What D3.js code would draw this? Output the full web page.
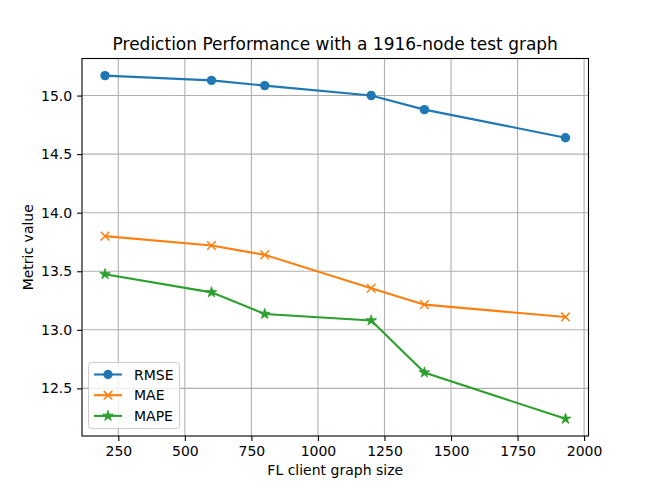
<!DOCTYPE html>
<html><head><meta charset="utf-8">
<script src="https://cdn.jsdelivr.net/npm/d3@7"></script>
<style>body{margin:0;background:#fff;} text{font-family:"DejaVu Sans",sans-serif;}</style>
</head><body>
<svg id="c" width="654" height="490"></svg>
<script>
const sizes = [200, 600, 800, 1200, 1400, 1930];
const rmse = [15.17, 15.13, 15.085, 15.0, 14.88, 14.64];
const mae = [13.80, 13.72, 13.64, 13.355, 13.215, 13.11];
const mape = [13.475, 13.32, 13.135, 13.08, 12.635, 12.24];
const xTicks = [250, 500, 750, 1000, 1250, 1500, 1750, 2000];
const yTicks = [12.5, 13.0, 13.5, 14.0, 14.5, 15.0];
const seriesNames = ["RMSE", "MAE", "MAPE"];
const colors = ["#1f77b4", "#ff7f0e", "#2ca02c"];
const markers = ["circle", "x", "star"];

const svg = d3.select("#c");
const L = 82, R = 588.5, T = 58.5, B = 436;
const all = rmse.concat(mae, mape);
const xmin = d3.min(sizes), xmax = d3.max(sizes);
const ymin = d3.min(all), ymax = d3.max(all);
const xm = (xmax - xmin) * 0.05, ym = (ymax - ymin) * 0.05;
const x = d3.scaleLinear().domain([xmin - xm, xmax + xm]).range([L, R]);
const y = d3.scaleLinear().domain([ymin - ym, ymax + ym]).range([B, T]);

// grid
const g = svg.append("g");
g.selectAll(".gx").data(xTicks.filter(t => x(t) <= R)).enter().append("line")
  .attr("x1", d => x(d)).attr("x2", d => x(d)).attr("y1", T).attr("y2", B)
  .attr("stroke", "#b0b0b0").attr("stroke-width", 1.1);
g.selectAll(".gy").data(yTicks).enter().append("line")
  .attr("y1", d => y(d)).attr("y2", d => y(d)).attr("x1", L).attr("x2", R)
  .attr("stroke", "#b0b0b0").attr("stroke-width", 1.1);

// axes
const xAxis = d3.axisBottom(x).tickValues(xTicks).tickSizeOuter(0).tickSize(4.9).tickPadding(4.9).tickFormat(d3.format("d"));
const yAxis = d3.axisLeft(y).tickValues(yTicks).tickSizeOuter(0).tickSize(4.9).tickPadding(4.9).tickFormat(d3.format(".1f"));
const gx = svg.append("g").attr("transform", `translate(0,${B})`).call(xAxis);
const gy = svg.append("g").attr("transform", `translate(${L},0)`).call(yAxis);
[gx, gy].forEach(a => {
  a.select(".domain").remove();
  a.selectAll("text").style("font-size", "14px").attr("fill", "#000");
  a.selectAll("line").attr("stroke", "#000").attr("stroke-width", 1.1);
});

// lines
const data = [rmse, mae, mape];
const line = d3.line().x(d => x(d[0])).y(d => y(d[1]));
function drawMarker(sel, type, color, cx, cy) {
  if (type === "circle") {
    sel.append("circle").attr("cx", cx).attr("cy", cy).attr("r", 4.7).attr("fill", color);
  } else if (type === "x") {
    const s = 4.3;
    sel.append("path").attr("d", `M${cx-s},${cy-s}L${cx+s},${cy+s}M${cx-s},${cy+s}L${cx+s},${cy-s}`)
      .attr("stroke", color).attr("stroke-width", 1.5).attr("fill", "none");
  } else {
    sel.append("path").attr("d", d3.symbol().type(d3.symbolStar).size(36)())
      .attr("transform", `translate(${cx},${cy})`).attr("fill", color).attr("stroke", color).attr("stroke-width", 0.8);
  }
}
data.forEach((vals, i) => {
  const pts = sizes.map((s, j) => [s, vals[j]]);
  svg.append("path").attr("d", line(pts)).attr("fill", "none").attr("stroke", colors[i]).attr("stroke-width", 2.1);
  const mg = svg.append("g");
  pts.forEach(p => drawMarker(mg, markers[i], colors[i], x(p[0]), y(p[1])));
});

// frame
svg.append("rect").attr("x", L).attr("y", T).attr("width", R - L).attr("height", B - T)
  .attr("fill", "none").attr("stroke", "#000").attr("stroke-width", 1.1);

// title & labels
svg.append("text").attr("x", (L + R) / 2).attr("y", 50).attr("text-anchor", "middle")
  .style("font-size", "17px").text("Prediction Performance with a 1916-node test graph");
svg.append("text").attr("x", (L + R) / 2).attr("y", 475).attr("text-anchor", "middle")
  .style("font-size", "14px").text("FL client graph size");
svg.append("text").attr("transform", `translate(33,${(T + B) / 2}) rotate(-90)`).attr("text-anchor", "middle")
  .style("font-size", "14px").text("Metric value");

// legend
const lg = svg.append("g");
lg.append("rect").attr("x", 88.5).attr("y", 362.5).attr("width", 91).attr("height", 66).attr("rx", 3)
  .attr("fill", "#fff").attr("fill-opacity", 0.8).attr("stroke", "#cccccc").attr("stroke-width", 1);
seriesNames.forEach((n, i) => {
  const ly = 374.5 + i * 20.7;
  lg.append("line").attr("x1", 94).attr("x2", 122).attr("y1", ly).attr("y2", ly).attr("stroke", colors[i]).attr("stroke-width", 2.1);
  drawMarker(lg, markers[i], colors[i], 108, ly);
  lg.append("text").attr("x", 134).attr("y", ly + 5).style("font-size", "14px").text(n);
});
</script>
</body></html>
